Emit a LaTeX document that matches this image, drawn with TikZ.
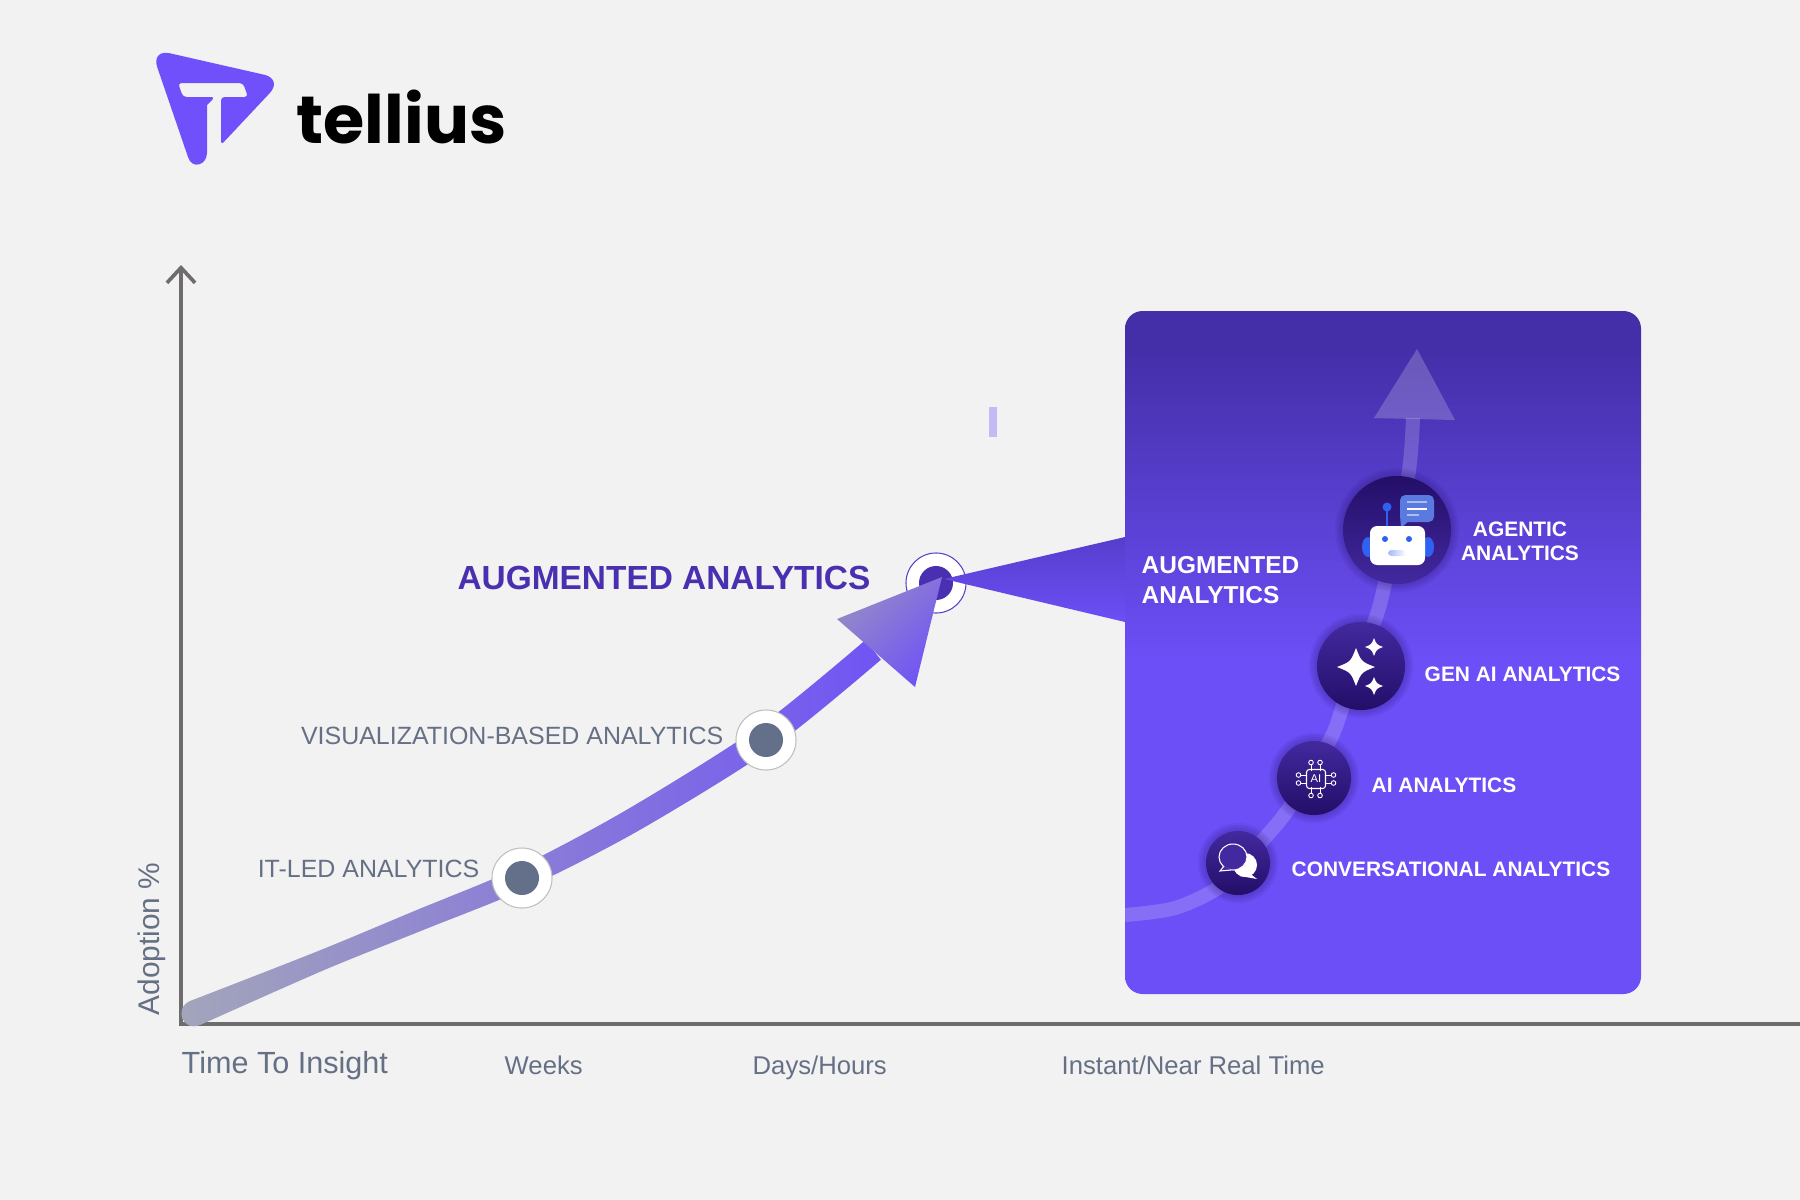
\documentclass[tikz,border=0pt]{standalone}
\usepackage{fontspec}
\usepackage{xcolor}
\setmainfont{Liberation Sans}
\newfontfamily\logofont{Poppins}
\usetikzlibrary{arrows.meta}

\definecolor{pagegrey}{HTML}{F2F2F2}
\definecolor{axisgrey}{HTML}{6E6C6C}
\definecolor{slatetext}{HTML}{667085}
\definecolor{slatedot}{HTML}{64708A}
\definecolor{deepviolet}{HTML}{4A2FB0}
\definecolor{brandviolet}{HTML}{7050FB}
\definecolor{paneltop}{HTML}{452FA9}
\definecolor{panelbot}{HTML}{6C4FF6}
\definecolor{disclight}{HTML}{43299F}
\definecolor{discdark}{HTML}{230E68}
\definecolor{robotblue}{HTML}{2F62F0}
\definecolor{bubbleblue}{HTML}{5A7AE0}
\definecolor{curveleft}{HTML}{A3A6BA}
\definecolor{curvemid}{HTML}{9488C8}
\definecolor{curveright}{HTML}{7154F4}
\definecolor{tickviolet}{HTML}{C2BBF5}

\pgfdeclareverticalshading{panelshade}{100bp}{color(0bp)=(panelbot); color(49.5bp)=(panelbot); color(72bp)=(paneltop); color(100bp)=(paneltop)}

\tikzset{
    slatelabel/.style={text=slatetext, inner sep=0, font=\fontsize{7.1}{9}\selectfont},
    ticklabel/.style={text=slatetext, inner sep=0, anchor=base west, font=\fontsize{7.3}{9}\selectfont},
    whitelabel/.style={text=white, inner sep=0, align=left, font=\fontsize{5.95}{6.9}\selectfont\bfseries},
    markerring/.style={circle, draw=#1, line width=0.3pt, fill=white, minimum size=0.6cm, inner sep=0},
    markerdot/.style={circle, fill=#1, minimum size=0.34cm, inner sep=0},
    discup/.style={circle, top color=disclight, bottom color=discdark, inner sep=0},
    discdown/.style={circle, top color=discdark, bottom color=disclight, inner sep=0},
}

\begin{document}
\begin{tikzpicture}[x=0.01cm, y=-0.01cm]
        \fill [pagegrey] (0, 0) rectangle (1800, 1200);
        \useasboundingbox (0, 0) rectangle (1800, 1200);

        % logo
        \fill [brandviolet, rounded corners=5.5pt] (188, 157) -- (151, 49) -- (283, 79)
        [rounded corners=1pt] -- (221, 145) -- (221, 97) -- (248, 97) -- (243, 83)
        -- (178, 83) -- (183, 97) -- (215, 97)
        [sharp corners] -- (207, 105) -- (207, 153)
        .. controls (207, 165) and (192, 170) .. (188, 157) -- cycle;
        \node [anchor=base west, inner sep=0, text=black, font=\fontsize{19}{22}\logofont\bfseries] (logotext) at (296, 143) {tellius};

        % axes
        \coordinate (ytip) at (181, 265);
        \coordinate (origin) at (181, 1024);
        \coordinate (xend) at (1800, 1024);
        \draw [axisgrey, line width=1.05pt, {Straight Barb[length=4.3pt, width=8pt]}-] (ytip) -- (origin) -- (xend);

        \node [slatelabel, rotate=90, font=\fontsize{8.5}{10}\selectfont] (adoption) at (152, 939) {Adoption \%};
        \node [ticklabel, font=\fontsize{8.7}{10}\selectfont] (timeinsight) at (181, 1073) {Time To Insight};
        \node [ticklabel] (weeks) at (504, 1074) {Weeks};
        \node [ticklabel] (days) at (752, 1074) {Days/Hours};
        \node [ticklabel] (instant) at (1061, 1074) {Instant/Near Real Time};

        % panel
        \shade [shading=panelshade, rounded corners=5pt] (1125, 311) rectangle (1641, 994);

        % rising curve
        \shade [left color=curveleft, middle color=curvemid, right color=curveright]
        plot [smooth] coordinates {(190, 1001) (316.2, 951.8) (416, 910.3) (517.3, 868) (627, 809.6) (758.8, 726.8) (865.1, 640.3)}
        -- plot [smooth] coordinates {(880.9, 659.7) (773.2, 747.2) (639, 830.4) (526.7, 888) (424, 929.7) (323.8, 970.2) (200, 1025)}
        .. controls (182, 1032) and (174, 1008) .. (190, 1001) -- cycle;

        % markers on the curve
        \node [markerring=black!25] (itring) at (522, 878) {};
        \node [markerdot=slatedot] (itdot) at (itring) {};
        \node [markerring=black!25] (visring) at (766, 740) {};
        \node [markerdot=slatedot] (visdot) at (visring) {};
        \node [markerring=brandviolet!80!black] (augring) at (936, 583) {};
        \node [markerdot=deepviolet] (augdot) at (augring) {};

        % callout and big arrow head
        \shade [top color=paneltop!55!panelbot, bottom color=panelbot] (944, 579) -- (1125, 537) -- (1125, 622) -- cycle;
        \shade [left color=curvemid!90!curveleft, right color=curveright, shading angle=45] (942, 577) -- (837, 619) -- (915, 687) -- cycle;

        \node [slatelabel, anchor=east] (itlabel) at (480, 869) {IT-LED ANALYTICS};
        \node [slatelabel, anchor=east] (vislabel) at (724, 736) {VISUALIZATION-BASED ANALYTICS};
        \node [anchor=east, inner sep=0, text=deepviolet, font=\fontsize{9.5}{11}\selectfont\bfseries] (auglabel) at (871, 578) {AUGMENTED ANALYTICS};

        \fill [tickviolet] (989, 407) rectangle (997, 437);

        % curve inside the panel
        \draw [white, opacity=0.18, line width=4pt] plot [smooth] coordinates {(1125, 915) (1175, 908) (1222, 885) (1263, 840) (1289, 808) (1330, 740) (1344, 703) (1375, 620) (1385, 583) (1408, 477) (1413, 418)};
        \fill [white, opacity=0.2] (1417, 349) -- (1374, 418) -- (1455, 420) -- cycle;

        % soft edge below the discs
        \foreach \cx/\cy/\cr in {1238/863/32, 1314/778/37, 1361/666/44, 1397/530/54} {
            \foreach \grow in {2, 4, 6, 8} {
                \fill [discdark, opacity=0.07] (\cx, \cy) circle (\cr+\grow);
            }
        }

        \node [discup, minimum size=0.64cm] (convdisc) at (1238, 863) {};
        \node [discup, minimum size=0.74cm] (aidisc) at (1314, 778) {};
        \node [discup, minimum size=0.88cm] (gendisc) at (1361, 666) {};
        \node [discdown, minimum size=1.08cm] (agentdisc) at (1397, 530) {};

        % robot icon
        \fill [robotblue] (1368, 547) ellipse (6 and 10);
        \fill [robotblue] (1428, 547) ellipse (6 and 10);
        \draw [robotblue, line width=0.5pt] (1387, 507) -- (1387, 528);
        \fill [robotblue] (1387, 507) circle (4.5);
        \fill [bubbleblue, rounded corners=1.5pt] (1400, 495) rectangle (1434, 522);
        \fill [bubbleblue] (1400, 515) -- (1401, 528) -- (1410, 520) -- cycle;
        \draw [white, opacity=0.5, line width=0.4pt] (1407, 502) -- (1427, 502);
        \draw [white, line width=0.4pt] (1407, 509) -- (1427, 509);
        \draw [white, opacity=0.5, line width=0.4pt] (1407, 515) -- (1419, 515);
        \fill [white, rounded corners=2pt] (1370, 526) rectangle (1425, 565);
        \fill [robotblue] (1385, 539) circle (3);
        \fill [robotblue] (1409, 539) circle (3);
        \shade [left color=robotblue!45, right color=white, rounded corners=1pt] (1388, 550) rectangle (1406, 556);

        % sparkles
        \foreach \sx/\sy/\sr in {1356/667/19, 1374/647/9, 1374/686/9} {
            \fill [white] (\sx-\sr, \sy) .. controls (\sx-0.28*\sr, \sy-0.28*\sr) .. (\sx, \sy-\sr)
            .. controls (\sx+0.28*\sr, \sy-0.28*\sr) .. (\sx+\sr, \sy)
            .. controls (\sx+0.28*\sr, \sy+0.28*\sr) .. (\sx, \sy+\sr)
            .. controls (\sx-0.28*\sr, \sy+0.28*\sr) .. cycle;
        }

        % chip icon
        \node [draw=white, line width=0.3pt, rounded corners=0.8pt, minimum size=0.19cm, inner sep=0, text=white, font=\fontsize{3.2}{4}\selectfont] (chip) at (1316, 779) {AI};
        \foreach \px in {1311, 1320} {
            \draw [white, line width=0.25pt] (\px, 771) -- (\px, 765) (\px, 787) -- (\px, 793);
            \draw [white, line width=0.25pt] (\px, 762.5) circle (2.3) (\px, 795.5) circle (2.3);
        }
        \foreach \py in {775, 783} {
            \draw [white, line width=0.25pt] (1306, \py) -- (1301, \py) (1326, \py) -- (1331, \py);
            \draw [white, line width=0.25pt] (1298.5, \py) circle (2.3) (1333.5, \py) circle (2.3);
        }

        % chat icon
        \fill [white] (1245, 865) circle (12);
        \fill [white] (1248, 872) -- (1257, 879) -- (1240, 876) -- cycle;
        \filldraw [draw=white, fill=disclight, line width=0.3pt] (1233, 857) ellipse (14 and 13);
        \draw [white, line width=0.3pt, fill=disclight] (1224, 866) -- (1220, 871) -- (1231, 870);

        % panel labels
        \node [whitelabel, anchor=west, font=\fontsize{6.95}{8.5}\selectfont\bfseries] (augpanel) at (1141, 580) {AUGMENTED\\ANALYTICS};
        \node [whitelabel, align=center] (agentlabel) at (1520, 541) {AGENTIC\\ANALYTICS};
        \node [whitelabel, anchor=west] (genlabel) at (1424, 674) {GEN AI ANALYTICS};
        \node [whitelabel, anchor=west] (ailabel) at (1371, 785) {AI ANALYTICS};
        \node [whitelabel, anchor=west] (convlabel) at (1291, 869) {CONVERSATIONAL ANALYTICS};
\end{tikzpicture}
\end{document}
